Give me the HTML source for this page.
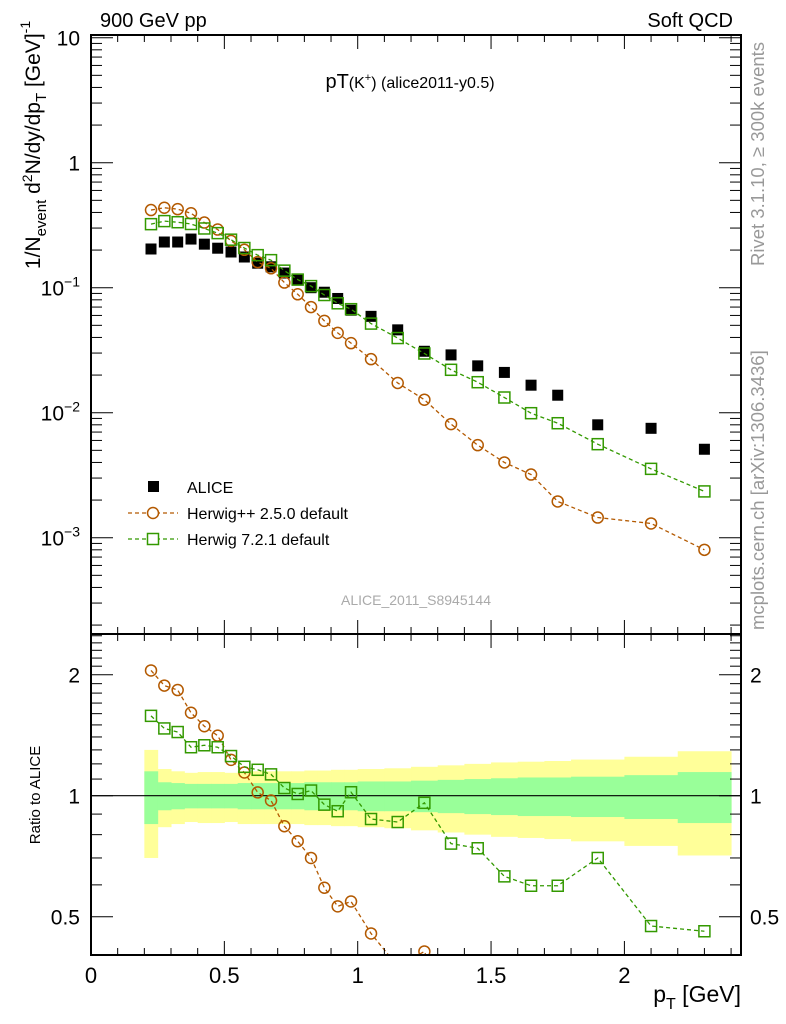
<!DOCTYPE html>
<html><head><meta charset="utf-8"><style>
html,body{margin:0;background:#fff;overflow:hidden;width:786px;height:1024px;}
svg{display:block;font-family:"Liberation Sans",sans-serif;}
</style></head><body>
<svg id="c" width="786" height="1024" xmlns="http://www.w3.org/2000/svg"></svg>
<script>
const binEdges=[0.2,0.25,0.3,0.35,0.4,0.45,0.5,0.55,0.6,0.65,0.7,0.75,0.8,0.85,0.9,0.95,1.0,1.1,1.2,1.3,1.4,1.5,1.6,1.7,1.8,2.0,2.2,2.4];
const aliceVals=[0.204,0.232,0.232,0.245,0.223,0.207,0.193,0.176,0.157,0.147,0.131,0.115,0.100,0.092,0.082,0.066,0.059,0.046,0.031,0.029,0.0237,0.021,0.0166,0.0138,0.0080,0.0075,0.0051];
const herwigPPVals=[0.418,0.436,0.425,0.394,0.332,0.292,0.237,0.201,0.160,0.143,0.110,0.0886,0.070,0.0543,0.0435,0.036,0.0268,0.0173,0.0127,0.0081,0.0055,0.0040,0.0032,0.00195,0.00145,0.00130,0.00080];
const herwig7Ratio=[1.58,1.47,1.44,1.32,1.335,1.32,1.255,1.18,1.16,1.13,1.045,1.01,1.03,0.95,0.915,1.02,0.875,0.86,0.96,0.76,0.74,0.63,0.597,0.597,0.70,0.474,0.46];
const yellowErr=[0.30,0.165,0.15,0.14,0.145,0.145,0.14,0.15,0.15,0.15,0.15,0.15,0.155,0.155,0.16,0.16,0.165,0.17,0.18,0.19,0.2,0.21,0.215,0.22,0.23,0.25,0.29];
const greenErr=[0.15,0.08,0.075,0.07,0.07,0.07,0.07,0.075,0.075,0.075,0.075,0.075,0.08,0.08,0.08,0.08,0.085,0.085,0.09,0.095,0.1,0.105,0.11,0.11,0.115,0.125,0.145];
const xTickLabels=["0","0.5","1","1.5","2"];

const NS="http://www.w3.org/2000/svg";
const svg=document.getElementById('c');
const L=91,R=741,MT=35,MB=634,RT=634,RB=955;
const X=v=>L+v*266.7;
const YM=v=>162.7-125*Math.log10(v);
const YR=v=>795.7-121*Math.log2(v);
function mk(tag,at,parent){const e=document.createElementNS(NS,tag);for(const k in at)e.setAttribute(k,at[k]);(parent||svg).appendChild(e);return e;}
function txt(s,x,y,size,anchor,fill,parent){const t=mk('text',{x:x,y:y,'font-size':size,'text-anchor':anchor||'start',fill:fill||'#000'},parent);t.textContent=s;return t;}

const centers=[];for(let i=0;i<aliceVals.length;i++)centers.push((binEdges[i]+binEdges[i+1])/2);
const h7Vals=herwig7Ratio.map((r,i)=>r*aliceVals[i]);
const hppRatio=herwigPPVals.map((v,i)=>v/aliceVals[i]);

const defs=mk('defs',{});
const c1=mk('clipPath',{id:'cm'},defs);mk('rect',{x:L,y:MT,width:R-L,height:MB-MT},c1);
const c2=mk('clipPath',{id:'cr'},defs);mk('rect',{x:L,y:RT,width:R-L,height:RB-RT},c2);

const bands=mk('g',{'clip-path':'url(#cr)'});


for(let i=0;i<yellowErr.length;i++){
  const x0=X(binEdges[i]),x1=X(binEdges[i+1]);
  const y=mk('rect',{x:x0,y:YR(1+yellowErr[i]),width:x1-x0+0.5,height:YR(1-yellowErr[i])-YR(1+yellowErr[i]),fill:'#ffff99'},bands);
  
  
}
for(let i=0;i<greenErr.length;i++){
  const x0=X(binEdges[i]),x1=X(binEdges[i+1]);
  const g=mk('rect',{x:x0,y:YR(1+greenErr[i]),width:x1-x0+0.5,height:YR(1-greenErr[i])-YR(1+greenErr[i]),fill:'#99ff99'},bands);
  
  
}
mk('line',{x1:L,x2:R,y1:YR(1),y2:YR(1),stroke:'#000','stroke-width':1.2});

function series(vals,yf,color,marker,clip,name){
  const g=mk('g',{'clip-path':clip});
  
  
  if(marker!=='fsq'){
    const pts=vals.map((v,i)=>X(centers[i])+','+yf(v)).join(' ');
    mk('polyline',{points:pts,fill:'none',stroke:color,'stroke-width':1.3,'stroke-dasharray':'4,3'},g);
  }
  vals.forEach((v,i)=>{
    const cx=X(centers[i]),cy=yf(v);let m;
    if(marker==='fsq')m=mk('rect',{x:cx-5.5,y:cy-5.5,width:11,height:11,fill:'#000'},g);
    else if(marker==='circ')m=mk('circle',{cx:cx,cy:cy,r:5.5,fill:'none',stroke:color,'stroke-width':1.5},g);
    else m=mk('rect',{x:cx-5.5,y:cy-5.5,width:11,height:11,fill:'none',stroke:color,'stroke-width':1.5},g);
    
    
  });
}
series(aliceVals,YM,'#000','fsq','url(#cm)','alice-data');
series(herwigPPVals,YM,'#b35900','circ','url(#cm)','herwigpp-series');
series(h7Vals,YM,'#339900','sq','url(#cm)','herwig7-series');
series(hppRatio,YR,'#b35900','circ','url(#cr)','herwigpp-ratio');
series(herwig7Ratio,YR,'#339900','sq','url(#cr)','herwig7-ratio');

mk('rect',{x:L,y:MT,width:R-L,height:MB-MT,fill:'none',stroke:'#000','stroke-width':2});
mk('rect',{x:L,y:RT,width:R-L,height:RB-RT,fill:'none',stroke:'#000','stroke-width':2});

for(let k=0;k<=24;k++){
  const v=k*0.1,x=X(v),maj=(k%5===0),len=maj?14:7;
  [MT,RT].forEach(y0=>mk('line',{x1:x,x2:x,y1:y0,y2:y0+len,stroke:'#000','stroke-width':1}));
  [MB,RB].forEach(y0=>mk('line',{x1:x,x2:x,y1:y0,y2:y0-len,stroke:'#000','stroke-width':1}));
}
xTickLabels.forEach((s,i)=>{const t=txt(s,X(i*0.5),983,22,'middle');});
for(let d=-4;d<=1;d++){for(let m=1;m<=9;m++){const v=m*Math.pow(10,d);const y=YM(v);if(y<MT-1||y>MB)continue;const len=m===1?22:11;
  mk('line',{x1:L,x2:L+len,y1:y,y2:y,stroke:'#000'});mk('line',{x1:R,x2:R-len,y1:y,y2:y,stroke:'#000'});}}
txt('10',80,YM(10)+8,21,'end');txt('1',80,YM(1)+8,21,'end');
[-1,-2,-3].forEach(p=>{const t=mk('text',{x:80,y:YM(Math.pow(10,p))+8,'font-size':21,'text-anchor':'end'});t.innerHTML='10<tspan dy="-9" font-size="14">\u2212'+(-p)+'</tspan>';});
[0.4,0.5,0.6,0.7,0.8,0.9,1,1.1,1.2,1.3,1.4,1.5,1.6,1.7,1.8,1.9,2,2.1,2.2,2.3,2.4,2.5].forEach(v=>{const y=YR(v);if(y<RT||y>RB)return;const maj=(v===0.5||v===1||v===2);const len=maj?22:11;
  mk('line',{x1:L,x2:L+len,y1:y,y2:y,stroke:'#000'});mk('line',{x1:R,x2:R-len,y1:y,y2:y,stroke:'#000'});});
[['2',2],['1',1],['0.5',0.5]].forEach(a=>{txt(a[0],80,YR(a[1])+8,21,'end');txt(a[0],750,YR(a[1])+8,21,'start');});

txt('900 GeV pp',100,27,20,'start');
txt('Soft QCD',733,27,20,'end');
const ti=mk('text',{x:410,y:88,'font-size':20,'text-anchor':'middle'});ti.innerHTML='pT<tspan font-size="16">(K<tspan dy="-7" font-size="11">+</tspan><tspan dy="7">)</tspan></tspan><tspan font-size="16"> (alice2011-y0.5)</tspan>';
txt('ALICE_2011_S8945144',416,605,14,'middle','#aaaaaa');
const yl=mk('text',{transform:'translate(40,145) rotate(-90)','font-size':21,'text-anchor':'middle'});
yl.innerHTML='1/N<tspan dy="6" font-size="15">event</tspan><tspan dy="-6"> d</tspan><tspan dy="-8" font-size="14">2</tspan><tspan dy="8">N/dy/dp</tspan><tspan dy="6" font-size="15">T</tspan><tspan dy="-6"> [GeV]</tspan><tspan dy="-10" font-size="14">-1</tspan>';
const rl=mk('text',{transform:'translate(40,795) rotate(-90)','font-size':15,'text-anchor':'middle'});rl.textContent='Ratio to ALICE';
const xl=mk('text',{x:741,y:1002,'font-size':23,'text-anchor':'end'});xl.innerHTML='p<tspan dy="7" font-size="16">T</tspan><tspan dy="-7"> [GeV]</tspan>';
const r1=mk('text',{transform:'translate(764,266) rotate(-90)','font-size':18.5,'text-anchor':'start',fill:'#999'});r1.textContent='Rivet 3.1.10, \u2265 300k events';
const r2=mk('text',{transform:'translate(764,630) rotate(-90)','font-size':18.5,'text-anchor':'start',fill:'#999'});r2.textContent='mcplots.cern.ch [arXiv:1306.3436]';

const lg=mk('g',{});


mk('rect',{x:148,y:481,width:11,height:11,fill:'#000'},lg);
txt('ALICE',187,493,16,'start','#000',lg);
mk('line',{x1:128,x2:178,y1:513,y2:513,stroke:'#b35900','stroke-width':1.3,'stroke-dasharray':'4,3'},lg);
mk('circle',{cx:153,cy:513,r:5.5,fill:'#fff',stroke:'#b35900','stroke-width':1.5},lg);
txt('Herwig++ 2.5.0 default',187,519,16,'start','#000',lg);
mk('line',{x1:128,x2:178,y1:539,y2:539,stroke:'#339900','stroke-width':1.3,'stroke-dasharray':'4,3'},lg);
mk('rect',{x:147.5,y:533.5,width:11,height:11,fill:'#fff',stroke:'#339900','stroke-width':1.5},lg);
txt('Herwig 7.2.1 default',187,545,16,'start','#000',lg);
</script>
</body></html>
